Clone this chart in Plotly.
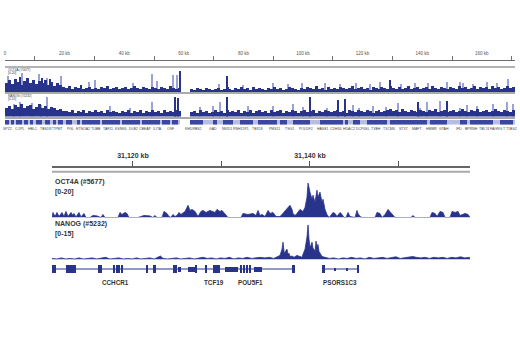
import plotly.graph_objects as go

# ---------------- data ----------------
# Top overview panel (kb from region start)
top_ruler_kb = [0, 20, 40, 60, 80, 100, 120, 140, 160]
top_ruler_text = ['0', '20 kb', '40 kb', '60 kb', '80 kb', '100 kb', '120 kb', '140 kb', '160 kb']
top_ruler_minor_kb = [10, 30, 50, 70, 90, 110, 130, 150, 170]

top_bin_start_kb = list(range(171))
oct4a_top_mean = [
    9, 12, 8, 13, 10, 7, 11, 14, 9, 12,
    8, 11, 9, 12, 7, 10, 6, 9, 7, 5,
    4, 6, 3, 5, 4, 7, 3, 4, 5, 3,
    4, 3, 5, 4, 6, 3, 4, 5, 3, 4,
    5, 3, 4, 6, 4, 3, 5, 4, 3, 5,
    4, 3, 5, 4, 3, 6, 4, 3, 4, 0,
    0, 0, 3, 2, 4, 3, 2, 4, 3, 2,
    3, 4, 2, 3, 5, 3, 2, 4, 3, 5,
    3, 4, 2, 5, 3, 4, 3, 2, 4, 3,
    5, 3, 4, 2, 3, 5, 4, 3, 2, 4,
    3, 5, 4, 3, 6, 3, 4, 2, 5, 3,
    4, 3, 5, 4, 3, 4, 6, 3, 4, 5,
    3, 4, 2, 5, 4, 3, 5, 4, 3, 6,
    4, 3, 5, 3, 4, 6, 3, 4, 5, 3,
    4, 5, 3, 6, 4, 3, 5, 4, 3, 5,
    4, 3, 6, 4, 5, 3, 4, 6, 3, 5,
    4, 5, 3, 6, 4, 5, 3, 4, 6, 4, 5]
nanog_top_mean = [
    8, 10, 7, 11, 9, 12, 8, 10, 11, 7,
    9, 12, 8, 10, 7, 9, 8, 6, 7, 5,
    5, 4, 6, 3, 5, 4, 6, 3, 5, 4,
    6, 4, 5, 3, 6, 4, 5, 4, 3, 5,
    4, 6, 3, 5, 4, 6, 3, 5, 4, 6,
    4, 5, 3, 6, 4, 5, 4, 6, 5, 0,
    0, 0, 4, 5, 3, 6, 4, 5, 3, 4,
    6, 4, 5, 3, 6, 4, 5, 4, 6, 3,
    5, 4, 6, 3, 5, 6, 4, 5, 3, 6,
    4, 5, 6, 3, 5, 4, 6, 5, 3, 5,
    6, 4, 5, 6, 3, 5, 4, 6, 5, 4,
    5, 6, 4, 5, 3, 6, 5, 4, 6, 5,
    4, 6, 5, 3, 5, 6, 4, 5, 6, 7,
    5, 6, 4, 7, 5, 4, 6, 5, 4, 6,
    5, 4, 6, 5, 7, 4, 5, 6, 4, 5,
    6, 4, 5, 7, 5, 4, 6, 5, 7, 4,
    5, 6, 4, 5, 7, 5, 4, 6, 5, 4, 6]

oct4a_top_peak_kb = [5.0, 12.4, 15.1, 58.7, 74.5, 129.2]
oct4a_top_peak = [15, 14, 13, 21, 16, 12]
oct4a_top_max_kb = [1.0, 5.7, 11.4, 14.1, 18.8, 28.2, 30.2, 43.0, 49.3, 51.0,
                    56.4, 57.7, 71.8, 80.0, 90.0, 95.0, 99.7, 107.4, 112.4, 118.0,
                    122.5, 125.8, 133.0, 137.6, 142.0, 148.3, 152.7, 153.7, 157.0, 161.7,
                    165.0, 168.8]
oct4a_top_max = [16, 19, 18, 14, 16, 10, 12, 9, 18, 11,
                 17, 17, 8, 7, 9, 8, 9, 9, 8, 9,
                 8, 10, 8, 9, 9, 10, 10, 9, 8, 10,
                 9, 13]
nanog_top_peak_kb = [57.1, 58.1, 74.5, 102.3, 111.7, 114.0, 138.6, 148.3]
nanog_top_peak = [19, 18, 19, 19, 16, 17, 14, 15]
nanog_top_max_kb = [3.0, 5.0, 9.0, 12.0, 14.1, 35.2, 41.9, 49.3, 65.4, 69.8,
                    72.1, 81.5, 89.9, 96.6, 100.0, 108.1, 117.0, 119.0, 123.5, 128.0,
                    131.9, 139.3, 141.6, 145.9, 152.7, 155.0, 158.4, 163.8, 168.5, 170.5]
nanog_top_max = [12, 14, 13, 11, 19, 10, 8, 14, 9, 10,
                 14, 10, 10, 12, 9, 8, 11, 8, 10, 9,
                 13, 8, 14, 15, 8, 11, 10, 12, 14, 12]

top_gene_light_start = [0, 62.08]
top_gene_light_end = [58.72, 171.14]
top_gene_start = [0, 2.01, 3.69, 6.38, 8.39, 10.40, 13.42, 16.11, 17.79, 20.47,
                  24.16, 25.84, 32.55, 39.26, 45.97, 52.68, 56.04, 62.08, 69.80, 73.15,
                  78.86, 84.90, 92.28, 96.64, 105.70, 114.09, 116.78, 121.48, 129.19, 142.62,
                  152.68, 156.04, 166.11]
top_gene_end = [1.34, 3.02, 5.70, 7.72, 9.40, 12.42, 15.10, 17.11, 19.46, 22.48,
                25.17, 31.88, 38.59, 45.30, 52.01, 55.37, 58.05, 66.44, 71.14, 76.51,
                83.22, 91.28, 94.63, 102.35, 113.42, 115.10, 119.13, 128.19, 141.61, 148.32,
                155.03, 163.76, 170.47]
top_gene_names = ['SPZ2', 'COPL', 'HBLC', 'TBS187', 'TPMT', 'PGL', 'ETNOA2', 'TUBB', 'TAF11', 'KSNK6',
                  'DLB2', 'CBEAP', 'ILITA', 'OSF', 'KHDRBS2', 'GAD', 'NKID1', 'RNH15P1', 'TBX18', 'PMS11',
                  'TSG1', 'POU5F2', 'HASE1', 'CDH34', 'HDAC2', 'DCP6SL', 'TXBH', 'TXCM6', 'STX7', 'MAFT',
                  'HMMR', 'GTAH', 'IFD', 'BPRNH', 'TBL74', 'FAGRG', 'T T1BS2']
top_gene_label_kb = [1.0, 5.0, 9.4, 13.8, 17.8, 22.1, 26.2, 30.5, 34.6, 38.9,
                     43.0, 47.3, 51.3, 55.7, 63.1, 69.8, 74.5, 79.2, 84.6, 90.3,
                     95.6, 101.0, 106.7, 111.1, 115.6, 120.0, 124.4, 128.9, 133.6, 138.3,
                     143.1, 147.2, 152.4, 156.4, 160.7, 165.0, 169.3]

# Zoomed panel (genomic kb)
zoom_ticks_kb = [31120, 31130, 31140, 31150]
zoom_tick_text = ['31,120 kb', '', '31,140 kb', '']

oct4a_pos_kb = [
    31110.85, 31110.96, 31111.19, 31111.41, 31111.64, 31111.98, 31112.20, 31112.43, 31112.66, 31113.00,
    31113.22, 31113.33, 31113.56, 31113.90, 31114.12, 31114.46, 31114.69, 31115.14, 31115.48, 31115.93,
    31116.38, 31116.61, 31116.84, 31118.31, 31118.53, 31118.76, 31119.10, 31119.32, 31119.55, 31120.57,
    31121.24, 31121.92, 31122.26, 31122.49, 31122.71, 31123.28, 31123.50, 31123.84, 31124.07, 31124.29,
    31124.52, 31124.75, 31124.97, 31125.20, 31125.42, 31125.65, 31125.88, 31126.22, 31126.44, 31126.67,
    31127.01, 31127.35, 31127.68, 31127.91, 31128.25, 31128.70, 31129.04, 31129.27, 31129.49, 31129.83,
    31130.06, 31130.40, 31130.74, 31132.20, 31132.43, 31132.99, 31133.56, 31133.90, 31134.13, 31134.35,
    31134.58, 31134.92, 31135.26, 31135.48, 31135.82, 31136.16, 31136.61, 31136.84, 31137.18, 31137.52,
    31137.74, 31137.97, 31138.08, 31138.31, 31138.53, 31138.87, 31139.21, 31139.44, 31139.66, 31139.78,
    31140.00, 31140.23, 31140.34, 31140.57, 31140.79, 31140.90, 31141.13, 31141.36, 31141.47, 31141.70,
    31141.92, 31142.15, 31142.26, 31142.60, 31142.83, 31143.05, 31143.39, 31143.62, 31143.84, 31144.07,
    31144.30, 31144.52, 31145.09, 31145.31, 31145.43, 31145.65, 31145.88, 31147.35, 31147.57, 31147.91,
    31148.14, 31148.48, 31148.82, 31149.04, 31149.38, 31149.61, 31151.41, 31151.64, 31151.87, 31153.56,
    31153.79, 31154.13, 31154.36, 31154.69, 31155.03, 31155.26, 31155.82, 31156.05, 31156.39, 31156.73,
    31156.95, 31157.18, 31157.52, 31157.86, 31158.08]
oct4a_signal = [
    0, 2.5, 0.5, 2.5, 0.5, 2.5, 0.5, 3, 0.5, 2.5,
    1, 2, 0.3, 2.5, 0.3, 2, 0, 0, 1, 0.8,
    0, 1.5, 0, 0, 2.5, 1.5, 2.5, 2, 0, 0,
    1, 0.8, 0, 1, 0, 0, 3, 2, 0.5, 0,
    1.5, 0.5, 1, 2.5, 1.5, 2.5, 3, 6, 3.5, 4,
    3, 0.5, 3, 3.5, 2.5, 3.5, 3, 2.5, 4, 3,
    3.5, 2, 0, 0, 2, 1.5, 2, 1, 3.5, 1,
    1.5, 0.5, 3.5, 2, 2.5, 0.5, 0.5, 1.5, 3, 5,
    6, 4, 2, 1, 2, 4, 3, 5, 10, 17,
    12.5, 9, 11, 7.5, 13.5, 10, 12.5, 7.5, 9, 4,
    1.5, 0, 0.5, 2.5, 2, 0.5, 2.5, 1.5, 0, 0,
    2.5, 0.5, 0, 3.5, 2, 0.5, 0, 0, 2.5, 2,
    0, 1.5, 4, 3, 1, 0, 0, 1, 0, 0,
    2.5, 2, 0.5, 3, 2.5, 0, 0, 3, 2.5, 3,
    1, 1.5, 2, 1.5, 0]

nanog_pos_kb = [
    31110.85, 31110.9, 31111.4, 31111.9, 31112.4, 31112.9, 31113.4, 31113.9, 31114.4, 31114.9,
    31115.4, 31115.9, 31116.4, 31116.9, 31117.4, 31117.9, 31118.4, 31118.9, 31119.4, 31119.9,
    31120.4, 31120.9, 31121.4, 31121.9, 31122.4, 31122.8, 31123.1, 31123.4, 31123.9, 31124.4,
    31124.9, 31125.4, 31125.9, 31126.4, 31126.9, 31127.4, 31127.9, 31128.4, 31128.9, 31129.4,
    31129.9, 31130.4, 31130.9, 31131.4, 31131.9, 31132.4, 31132.9, 31133.4, 31133.9, 31134.4,
    31134.9, 31135.4, 31135.9, 31136.3, 31136.61, 31136.84, 31136.95, 31137.07, 31137.18, 31137.29,
    31137.40, 31137.52, 31137.63, 31137.74, 31137.97, 31138.19, 31138.53, 31138.87, 31139.10, 31139.21,
    31139.44, 31139.66, 31139.78, 31139.89, 31140.00, 31140.11, 31140.23, 31140.34, 31140.45, 31140.57,
    31140.68, 31140.79, 31140.90, 31141.02, 31141.13, 31141.36, 31141.70, 31142.2, 31142.7, 31143.2,
    31143.7, 31144.2, 31144.7, 31145.2, 31145.7, 31146.2, 31146.7, 31147.2, 31147.7, 31148.2,
    31148.7, 31149.2, 31149.7, 31150.2, 31150.7, 31151.2, 31151.6, 31152.0, 31152.5, 31153.0,
    31153.5, 31154.0, 31154.5, 31155.0, 31155.5, 31156.0, 31156.5, 31157.0, 31157.5, 31158.0,
    31158.08]
nanog_signal = [
    0.2, 0.4, 0.2, 0.6, 0.2, 0.4, 0.2, 0.6, 0.2, 0.4,
    0.6, 0.2, 0.4, 0.8, 0.2, 0.4, 0.6, 0.2, 0.4, 0.2,
    0.6, 0.2, 0.4, 0.6, 0.2, 1.0, 1.3, 0.4, 0.2, 0.4,
    0.6, 0.2, 0.4, 0.6, 0.2, 0.6, 0.8, 0.4, 0.6, 0.2,
    0.6, 0.4, 0.8, 0.2, 0.6, 0.4, 0.8, 0.4, 0.6, 0.8,
    0.6, 0.8, 0.4, 1.0, 1.5, 3.8, 6.4, 3.0, 2.3, 3.4,
    3.8, 1.9, 2.3, 1.1, 1.3, 0.8, 1.5, 1.1, 0.8, 1.9,
    3.8, 8.3, 12.8, 7.5, 4.5, 5.3, 6.4, 4.1, 3.8, 3.0,
    6.8, 4.5, 5.6, 3.0, 2.3, 1.1, 0.8, 0.4, 0.6, 0.2,
    0.6, 0.4, 0.8, 0.4, 0.6, 0.2, 0.8, 0.4, 0.6, 0.8,
    0.4, 0.6, 1.0, 0.4, 0.6, 0.8, 1.1, 0.8, 0.6, 0.8,
    0.4, 0.8, 0.6, 0.8, 0.4, 0.8, 0.6, 1.0, 0.6, 0.8,
    0]

intron_start_kb = [31110.85, 31141.36]
intron_end_kb = [31138.31, 31145.54]
exon_start_kb = [31110.90, 31111.12, 31112.47, 31112.70, 31112.92, 31113.15, 31113.38, 31116.09, 31116.31,
                 31117.78, 31118.12, 31118.35, 31118.69, 31121.51, 31122.26, 31124.56, 31124.79, 31127.01,
                 31128.18, 31129.04, 31132.13, 31132.47, 31132.81, 31133.15, 31137.97, 31141.36, 31145.31]
exon_end_kb = [31111.03, 31111.25, 31112.62, 31112.85, 31113.07, 31113.30, 31113.53, 31116.24, 31116.46,
               31117.93, 31118.27, 31118.50, 31118.84, 31121.66, 31122.60, 31124.71, 31124.94, 31127.24,
               31128.33, 31129.83, 31132.28, 31132.62, 31132.96, 31133.30, 31138.31, 31141.70, 31145.54]
utr_start_kb = [31125.08, 31126.22, 31130.40, 31133.67]
utr_end_kb = [31125.42, 31127.01, 31131.87, 31134.58]
mark_start_kb = [31142.77, 31144.13]
mark_end_kb = [31142.89, 31144.24]
zoom_gene_names = ['CCHCR1', 'TCF19', 'POU5F1', 'PSORS1C3']
zoom_gene_kb = [31117.97, 31129.15, 31133.33, 31143.39]

# ---------------- styling / layout helpers ----------------
W, H = 520, 350
DARK = '#28348c'
LIGHT = '#9ca2d6'
FONT = 'Liberation Sans, Arial, sans-serif'


def xd(a, b):
    return [a / W, b / W]


def yd(top, bot):
    return [1 - bot / H, 1 - top / H]


def py(v):
    return 1 - v / H


def px(v):
    return v / W


def centers(starts, w):
    return [s + w / 2 for s in starts]


def spans(starts, ends):
    return [e - s for s, e in zip(starts, ends)]


fig = go.Figure()

# anchor traces so the two ruler axes get drawn
fig.add_trace(go.Scatter(x=[top_ruler_kb[0]], y=[0], mode='markers', marker=dict(opacity=0),
                         xaxis='x', yaxis='y', hoverinfo='skip'))
fig.add_trace(go.Scatter(x=[zoom_ticks_kb[0]], y=[0], mode='markers', marker=dict(opacity=0),
                         xaxis='x5', yaxis='y5', hoverinfo='skip'))

# OCT4A overview
fig.add_trace(go.Bar(x=oct4a_top_max_kb, y=oct4a_top_max, width=0.45, marker=dict(color=LIGHT, line=dict(width=0)),
                     xaxis='x2', yaxis='y2'))
fig.add_trace(go.Bar(x=centers(top_bin_start_kb, 1), y=oct4a_top_mean, width=1.0,
                     marker=dict(color=DARK, line=dict(width=0)), xaxis='x2', yaxis='y2'))
fig.add_trace(go.Bar(x=oct4a_top_peak_kb, y=oct4a_top_peak, width=0.45, marker=dict(color=DARK, line=dict(width=0)),
                     xaxis='x2', yaxis='y2'))
# NANOG overview
fig.add_trace(go.Bar(x=nanog_top_max_kb, y=nanog_top_max, width=0.45, marker=dict(color=LIGHT, line=dict(width=0)),
                     xaxis='x3', yaxis='y3'))
fig.add_trace(go.Bar(x=centers(top_bin_start_kb, 1), y=nanog_top_mean, width=1.0,
                     marker=dict(color=DARK, line=dict(width=0)), xaxis='x3', yaxis='y3'))
fig.add_trace(go.Bar(x=nanog_top_peak_kb, y=nanog_top_peak, width=0.45, marker=dict(color=DARK, line=dict(width=0)),
                     xaxis='x3', yaxis='y3'))

# overview gene row
fig.add_trace(go.Bar(orientation='h', base=top_gene_light_start, x=spans(top_gene_light_start, top_gene_light_end),
                     y=[0.5] * len(top_gene_light_start), width=1.0,
                     marker=dict(color='#b9bde3', line=dict(width=0)), xaxis='x4', yaxis='y4'))
fig.add_trace(go.Bar(orientation='h', base=top_gene_start, x=spans(top_gene_start, top_gene_end),
                     y=[0.5] * len(top_gene_start), width=1.0,
                     marker=dict(color='#3a46a0', line=dict(width=0)), xaxis='x4', yaxis='y4'))

# zoomed tracks
fig.add_trace(go.Scatter(x=oct4a_pos_kb, y=oct4a_signal, mode='lines', fill='tozeroy', fillcolor=DARK,
                         line=dict(color=DARK, width=0.8), xaxis='x6', yaxis='y6'))
fig.add_trace(go.Scatter(x=nanog_pos_kb, y=nanog_signal, mode='lines', fill='tozeroy', fillcolor=DARK,
                         line=dict(color=DARK, width=0.8), xaxis='x7', yaxis='y7'))

# gene models
ix, iy = [], []
for s, e in zip(intron_start_kb, intron_end_kb):
    ix += [s, e, None]
    iy += [0, 0, None]
fig.add_trace(go.Scatter(x=ix, y=iy, mode='lines', line=dict(color=DARK, width=1), xaxis='x8', yaxis='y8'))
fig.add_trace(go.Bar(orientation='h', base=exon_start_kb, x=spans(exon_start_kb, exon_end_kb),
                     y=[0] * len(exon_start_kb), width=1.6, marker=dict(color=DARK, line=dict(width=0)),
                     xaxis='x8', yaxis='y8'))
fig.add_trace(go.Bar(orientation='h', base=utr_start_kb, x=spans(utr_start_kb, utr_end_kb),
                     y=[0] * len(utr_start_kb), width=1.0, marker=dict(color=DARK, line=dict(width=0)),
                     xaxis='x8', yaxis='y8'))
fig.add_trace(go.Bar(orientation='h', base=mark_start_kb, x=spans(mark_start_kb, mark_end_kb),
                     y=[0] * len(mark_start_kb), width=0.6, marker=dict(color=DARK, line=dict(width=0)),
                     xaxis='x8', yaxis='y8'))

hidden = dict(visible=False, fixedrange=True)
plain_x = dict(showgrid=False, zeroline=False, ticks='', showticklabels=False, fixedrange=True)
top_range = [0, 171.14]
zoom_range = [31110.85, 31158.08]

layout = dict(
    width=W, height=H, margin=dict(l=0, r=0, t=0, b=0),
    paper_bgcolor='white', plot_bgcolor='rgba(0,0,0,0)',
    showlegend=False, hovermode=False, barmode='overlay', bargap=0,
    font=dict(family=FONT, color='#333333'),
    xaxis=dict(domain=xd(5, 515), range=top_range, anchor='y', side='top', showline=True,
               linecolor='#6e6e6e', linewidth=1, showgrid=False, zeroline=False, fixedrange=True,
               tickmode='array', tickvals=top_ruler_kb, ticktext=top_ruler_text, ticks='',
               tickfont=dict(size=4.5, color='#555555'), ticklabelstandoff=3,
               minor=dict(tickmode='array', tickvals=top_ruler_minor_kb, ticks='outside', ticklen=4,
                          tickcolor='#6e6e6e', tickwidth=1, showgrid=False)),
    yaxis=dict(domain=yd(61, 62.5), range=[-1, 1], **hidden),
    xaxis2=dict(domain=xd(5, 515), range=top_range, anchor='y2', showline=True, linecolor='#aaaaaa',
                linewidth=2, **plain_x),
    yaxis2=dict(domain=yd(70, 92), range=[0, 22], **hidden),
    xaxis3=dict(domain=xd(5, 515), range=top_range, anchor='y3', showline=True, linecolor='#aaaaaa',
                linewidth=2, **plain_x),
    yaxis3=dict(domain=yd(95, 116.5), range=[0, 21], **hidden),
    xaxis4=dict(domain=xd(5, 515), range=top_range, anchor='y4', showline=False, **plain_x),
    yaxis4=dict(domain=yd(119.5, 124.5), range=[0, 1], **hidden),
    xaxis5=dict(domain=xd(52, 470), range=zoom_range, anchor='y5', side='top', showline=True,
                linecolor='#666666', linewidth=1.5, showgrid=False, zeroline=False, fixedrange=True,
                tickmode='array', tickvals=zoom_ticks_kb, ticktext=zoom_tick_text, ticks='outside',
                ticklen=5, tickwidth=1, tickcolor='#555555',
                tickfont=dict(size=7, color='#333333', family=FONT, weight='bold')),
    yaxis5=dict(domain=yd(168, 169), range=[-1, 1], **hidden),
    xaxis6=dict(domain=xd(52, 470), range=zoom_range, anchor='y6', showline=False, **plain_x),
    yaxis6=dict(domain=yd(177, 217.5), range=[0, 20], **hidden),
    xaxis7=dict(domain=xd(52, 470), range=zoom_range, anchor='y7', showline=False, **plain_x),
    yaxis7=dict(domain=yd(219, 259.5), range=[0, 15], **hidden),
    xaxis8=dict(domain=xd(52, 470), range=zoom_range, anchor='y8', showline=False, **plain_x),
    yaxis8=dict(domain=yd(264, 274), range=[-1, 1], **hidden),
)

shapes = [
    dict(type='line', xref='paper', yref='paper', x0=px(5), x1=px(515), y0=py(67), y1=py(67),
         line=dict(color='#b3b3b3', width=2)),
    dict(type='line', xref='paper', yref='paper', x0=px(52), x1=px(470), y0=py(171.8), y1=py(171.8),
         line=dict(color='#aaaaaa', width=2)),
]

annotations = []
small = dict(size=3.2, color='#333333', family=FONT)
for text, y in [('OCT4A (#5677)', 70.5), ('[0-20]', 73.5), ('NANOG (#5232)', 96.2), ('[0-15]', 99.2)]:
    annotations.append(dict(text=text, x=px(6), y=py(y), xref='paper', yref='paper', xanchor='left',
                            yanchor='middle', showarrow=False, font=small))
for text, y in [('OCT4A (#5677)', 181.5), ('[0-20]', 191.5), ('NANOG (#5232)', 224), ('[0-15]', 234)]:
    annotations.append(dict(text='<b>%s</b>' % text, x=px(53), y=py(y), xref='paper', yref='paper',
                            xanchor='left', yanchor='middle', showarrow=False,
                            font=dict(size=7, color='#333333', family=FONT)))
for name, kb in zip(top_gene_names, top_gene_label_kb):
    annotations.append(dict(text=name, x=kb, y=py(129), xref='x4', yref='paper', xanchor='center',
                            yanchor='middle', showarrow=False, font=dict(size=3.5, color='#444444', family=FONT)))
for name, kb in zip(zoom_gene_names, zoom_gene_kb):
    annotations.append(dict(text='<b>%s</b>' % name, x=kb, y=py(282), xref='x8', yref='paper', xanchor='center',
                            yanchor='middle', showarrow=False, font=dict(size=6.3, color='#333333', family=FONT)))

fig.update_layout(**layout, shapes=shapes, annotations=annotations)
fig.write_html('out.html')
